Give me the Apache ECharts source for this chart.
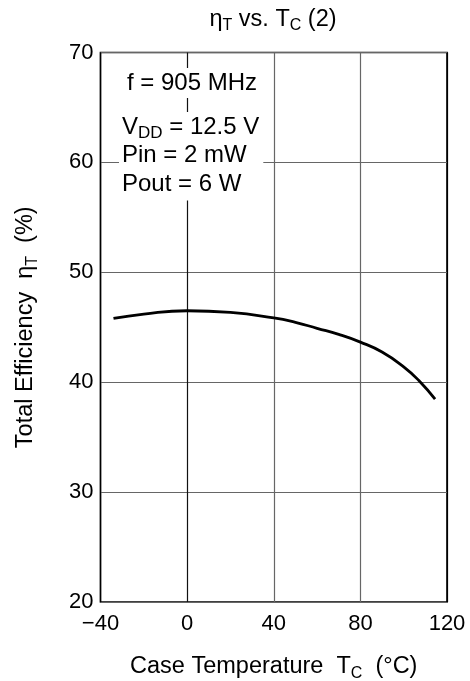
<!DOCTYPE html>
<html>
<head>
<meta charset="utf-8">
<script src="https://cdn.jsdelivr.net/npm/echarts@6/dist/echarts.min.js"></script>
<style>
  html, body { margin: 0; padding: 0; background: #fff; }
  #chart { width: 470px; height: 681px; }
</style>
</head>
<body>
<div id="chart"></div>
<script>
// Case temperature (°C) and total efficiency (%) along the measured curve
const caseTemp = [-34, -20, 0, 20, 40, 50, 60, 70, 80, 90, 100, 107, 114.5];
const efficiency = [45.8, 46.2, 46.5, 46.35, 45.85, 45.45, 44.9, 44.35, 43.65, 42.75, 41.4, 40.15, 38.45];

// Axis ticks
const xTicks = [-40, 0, 40, 80, 120];
const yTicks = [20, 30, 40, 50, 60, 70];

// Test conditions shown inside the plot
const condFreq = 'f = 905 MHz';
const condLines = ['{a|V}{s|DD}{a| = 12.5 V}', '{a|Pin = 2 mW}', '{a|Pout = 6 W}'];

const FONT = "'Liberation Sans', Arial, Helvetica, sans-serif";

const chart = echarts.init(document.getElementById('chart'), null, { renderer: 'canvas' });

const grid = { left: 100.5, right: 23, top: 52.5, bottom: 79 };

const subRich = (big, small) => ({
  a: { fontSize: big, fontFamily: FONT, color: '#000', lineHeight: 30 },
  s: { fontSize: small, fontFamily: FONT, color: '#000', lineHeight: 10, verticalAlign: 'bottom' }
});

chart.setOption({
  animation: false,
  backgroundColor: '#fff',
  grid: Object.assign({
    show: true, borderColor: '#000', borderWidth: 1.6, backgroundColor: 'transparent',
    containLabel: false, outerBoundsMode: 'none'
  }, grid),
  xAxis: {
    type: 'value',
    min: xTicks[0],
    max: xTicks[xTicks.length - 1],
    interval: xTicks[1] - xTicks[0],
    axisLine: { show: false },
    axisTick: { show: false },
    splitLine: { show: true, lineStyle: { color: ['#000', '#111', '#666', '#666', '#000'], width: 1.2 } },
    axisLabel: {
      color: '#000', fontSize: 22, fontFamily: FONT, margin: 11,
      formatter: v => (v < 0 ? '\u2212' + Math.abs(v) : String(v))
    },
    name: '{a|Case Temperature  T}{s|C}{a|  (°C)}',
    nameLocation: 'middle',
    nameGap: 50,
    nameTextStyle: { fontFamily: FONT, rich: subRich(23.5, 16) }
  },
  yAxis: {
    type: 'value',
    min: yTicks[0],
    max: yTicks[yTicks.length - 1],
    interval: yTicks[1] - yTicks[0],
    axisLine: { show: false },
    axisTick: { show: false },
    splitLine: { show: true, lineStyle: { color: '#666', width: 1.2 } },
    axisLabel: { color: '#000', fontSize: 22, fontFamily: FONT, margin: 7 },
    name: '{a|Total Efficiency  η}{s|T}{a|  (%)}',
    nameLocation: 'middle',
    nameRotate: 90,
    nameGap: 60,
    nameTextStyle: { fontFamily: FONT, rich: subRich(23.5, 16) }
  },
  series: [{
    type: 'line',
    data: caseTemp.map((t, i) => [t, efficiency[i]]),
    smooth: 0.5,
    showSymbol: false,
    lineStyle: { color: '#000', width: 2.8 },
    z: 5
  }],
  graphic: [
    {
      type: 'text',
      x: 273, y: 6, z: 100,
      style: {
        text: '{a|η}{s|T}{a| vs. T}{s|C}{a| (2)}',
        align: 'center',
        verticalAlign: 'top',
        rich: {
          a: { fontSize: 23.5, fontFamily: FONT, fill: '#000', lineHeight: 28 },
          s: { fontSize: 16, fontFamily: FONT, fill: '#000', lineHeight: 10, verticalAlign: 'bottom' }
        }
      }
    },
    {
      type: 'text',
      x: 124, y: 68, z: 100,
      style: {
        text: condFreq,
        fontSize: 24, fontFamily: FONT, fill: '#000',
        backgroundColor: '#fff',
        padding: [3, 3, 3, 3],
        lineHeight: 24,
        align: 'left', verticalAlign: 'top'
      }
    },
    {
      type: 'text',
      x: 119, y: 112, z: 100,
      style: {
        text: condLines.join('\n'),
        backgroundColor: '#fff',
        padding: [1, 4, 2, 3],
        align: 'left', verticalAlign: 'top',
        rich: {
          a: { fontSize: 24, fontFamily: FONT, fill: '#000', lineHeight: 28.5 },
          s: { fontSize: 17, fontFamily: FONT, fill: '#000', lineHeight: 10, verticalAlign: 'bottom' }
        }
      }
    }
  ]
});
</script>
</body>
</html>
